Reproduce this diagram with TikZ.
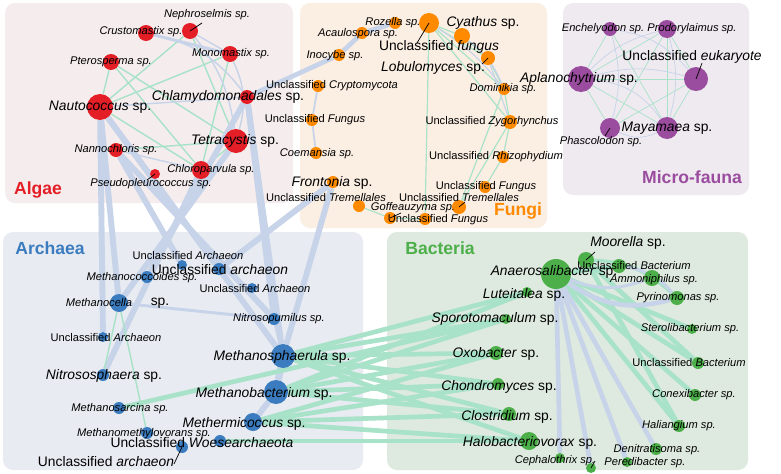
\documentclass[tikz,border=0pt]{standalone}
\usepackage{fontspec}
\setmainfont{Liberation Sans}
\usepackage{tikz}
\usetikzlibrary{calc}
\definecolor{algaefill}{HTML}{F5ECED}
\definecolor{fungifill}{HTML}{FBEEE3}
\definecolor{faunafill}{HTML}{EFEAF0}
\definecolor{archfill}{HTML}{E8EBF1}
\definecolor{bactfill}{HTML}{DEEADF}
\definecolor{algaecol}{HTML}{E41E26}
\definecolor{fungicol}{HTML}{FF8A00}
\definecolor{faunacol}{HTML}{9A4C9E}
\definecolor{archcol}{HTML}{3A7CBF}
\definecolor{bactcol}{HTML}{4DAF4A}
\definecolor{negcol}{HTML}{C6D3E8}
\definecolor{poscol}{HTML}{A8E2C8}
\newcommand{\taxon}[5]{\node[spnode,fill=#5,minimum size=#4*0.06cm] (#1) at (#2,#3) {};}
\pgfdeclarelayer{boxes}
\pgfdeclarelayer{edges}
\pgfsetlayers{boxes,edges,main}
\tikzset{
  spnode/.style={circle,inner sep=0pt,draw=none},
  lab/.style={inner sep=0pt,font=\fontsize{9.5}{10}\selectfont},
  big/.style={inner sep=0pt,font=\fontsize{11.8}{13}\selectfont},
  grouptitle/.style={inner sep=0pt,font=\fontsize{15}{16}\selectfont\bfseries},
  region/.style={rounded corners=0.3cm,draw=none},
  neg/.style={draw=negcol,line width=#1},
  pos/.style={draw=poscol,line width=#1},
  leader/.style={draw=black,line width=0.6pt}
}

\begin{document}
\begin{tikzpicture}[x=0.03cm,y=-0.03cm]
\useasboundingbox (0,0) rectangle (781,473);

% groups
\begin{pgfonlayer}{boxes}
  \fill[white] (0,0) rectangle (781,473);
  \fill[region,algaefill] (5,3) rectangle (293,203);
  \fill[region,fungifill] (300,3) rectangle (547,228);
  \fill[region,faunafill] (563,3) rectangle (749,195);
  \fill[region,archfill] (3,232) rectangle (363,470);
  \fill[region,bactfill] (387,232) rectangle (748,470);
\end{pgfonlayer}
\node[grouptitle,text=algaecol] (tAlgae) at (38,190) {Algae};
\node[grouptitle,text=fungicol] (tFungi) at (518,211) {Fungi};
\node[grouptitle,text=faunacol] (tFauna) at (692,177) {Micro-fauna};
\node[grouptitle,text=archcol] (tArch) at (50,248) {Archaea};
\node[grouptitle,text=bactcol] (tBact) at (440,248) {Bacteria};

% algae
\taxon{aNeph}{190}{31}{8}{algaecol}
\taxon{aCrus}{146}{33}{8}{algaecol}
\taxon{aMono}{230}{54}{8}{algaecol}
\taxon{aPter}{111}{62}{8}{algaecol}
\taxon{aNaut}{100}{107}{13}{algaecol}
\taxon{aChla}{247}{97}{7}{algaecol}
\taxon{aTetr}{236}{141}{12}{algaecol}
\taxon{aNann}{116}{150}{7}{algaecol}
\taxon{aChlo}{201}{170}{9}{algaecol}
\taxon{aPseu}{155}{174}{5}{algaecol}

% fungi
\taxon{fRoze}{395}{23}{6}{fungicol}
\taxon{fUFb}{429}{23}{10}{fungicol}
\taxon{fCyat}{462}{36}{8}{fungicol}
\taxon{fAcau}{362}{33}{6}{fungicol}
\taxon{fInoc}{339}{55}{6}{fungicol}
\taxon{fLobu}{488}{58}{7}{fungicol}
\taxon{fUCry}{318}{86}{6}{fungicol}
\taxon{fDomi}{504}{89}{6}{fungicol}
\taxon{fUFu1}{312}{120}{6}{fungicol}
\taxon{fZygo}{510}{122}{7}{fungicol}
\taxon{fCoem}{316}{153}{6}{fungicol}
\taxon{fRhiz}{503}{157}{6}{fungicol}
\taxon{fFron}{333}{182}{6}{fungicol}
\taxon{fUFu2}{485}{187}{6}{fungicol}
\taxon{fTreL}{359}{206}{6}{fungicol}
\taxon{fGoff}{390}{218}{6}{fungicol}
\taxon{fTreR}{459}{207}{7}{fungicol}
\taxon{fUFu3}{425}{219}{6}{fungicol}

% micro-fauna
\taxon{mEnch}{610}{29}{7}{faunacol}
\taxon{mProd}{667}{29}{9}{faunacol}
\taxon{mUEuk}{696}{79}{12}{faunacol}
\taxon{mApla}{581}{79}{13}{faunacol}
\taxon{mPhas}{610}{128}{10}{faunacol}
\taxon{mMaya}{667}{128}{11}{faunacol}

% archaea
\taxon{rUA1}{182}{265}{5}{archcol}
\taxon{rMcoc}{147}{277}{6}{archcol}
\taxon{rUAb}{219}{269}{6}{archcol}
\taxon{rUA2}{252}{288}{5}{archcol}
\taxon{rMcel}{119}{303}{9}{archcol}
\taxon{rNpum}{274}{319}{6}{archcol}
\taxon{rUA3}{103}{337}{5}{archcol}
\taxon{rMsph}{283}{356}{12}{archcol}
\taxon{rNsph}{103}{375}{6}{archcol}
\taxon{rMbac}{276}{392}{12}{archcol}
\taxon{rMsar}{119}{408}{6}{archcol}
\taxon{rMthc}{253}{422}{9}{archcol}
\taxon{rMmet}{147}{433}{6}{archcol}
\taxon{rWoes}{220}{441}{6}{archcol}
\taxon{rUAc}{182}{447}{6}{archcol}

% bacteria
\taxon{bAnae}{556}{274}{15}{bactcol}
\taxon{bMoor}{586}{260}{8}{bactcol}
\taxon{bUB1}{619}{266}{7}{bactcol}
\taxon{bAmmo}{652}{278}{8}{bactcol}
\taxon{bPyri}{677}{298}{7}{bactcol}
\taxon{bLute}{527}{292}{5}{bactcol}
\taxon{bSter}{692}{329}{5}{bactcol}
\taxon{bSpor}{506}{319}{5}{bactcol}
\taxon{bUB2}{698}{363}{6}{bactcol}
\taxon{bOxob}{496}{353}{7}{bactcol}
\taxon{bChon}{498}{384}{6}{bactcol}
\taxon{bConx}{695}{395}{6}{bactcol}
\taxon{bClos}{509}{414}{7}{bactcol}
\taxon{bHali}{679}{426}{6}{bactcol}
\taxon{bHalo}{529}{441}{9}{bactcol}
\taxon{bDeni}{656}{449}{6}{bactcol}
\taxon{bCeph}{560}{458}{5}{bactcol}
\taxon{bPere}{627}{462}{5}{bactcol}
\taxon{bUnk}{591}{468}{5}{bactcol}

\begin{pgfonlayer}{edges}
% algae
\foreach \a/\b in {aNeph/aNaut,aMono/aNaut,aPter/aNaut,aPter/aChlo,aPter/aTetr,
  aNeph/aTetr,aMono/aChlo,aNann/aTetr,aNaut/aChlo,aChlo/aTetr}
  \draw[pos=1.2pt] (\a) -- (\b);
\draw[neg=2.5pt] (aCrus) -- (aMono);
\draw[neg=1.2pt] (aNeph) -- (aMono);
\draw[neg=1.2pt] (aNaut) -- (aChla);
\draw[neg=1.2pt] (aNann) -- (aChlo);
\draw[neg=1.2pt] (aCrus) to[bend left=20] (aChla);
\draw[neg=1.2pt] (aNeph) to[bend left=15] (aTetr);
\draw[neg=1.2pt] (aMono) to[bend left=20] (aTetr);
% algae and fungi to archaea
\foreach \a/\b in {aNaut/rUA3,aNaut/rMcel,aNaut/rUAb,aNaut/rMsph,aNann/rUA1,aNann/rNpum,
  aChla/rMcoc,aTetr/rMcel,aChlo/rNsph,aChla/rMsph,aChla/rNpum,fFron/rMsph,fFron/rUAb}
  \draw[neg=5pt] (\a) -- (\b);
% fungi
\draw[neg=4pt] (fRoze) -- (fAcau) -- (fInoc) -- (aChla);
\draw[neg=1.5pt] (fUCry) -- (fUFu1) -- (fCoem);
\foreach \a/\b in {fUFb/fCyat,fUFb/fLobu,fUFb/fDomi,fUFb/fZygo,fUFb/fUFu3,fCyat/fLobu,
  fLobu/fDomi,fDomi/fZygo,fDomi/fTreR,fZygo/fTreR,fZygo/fRhiz,fRhiz/fUFu2,fTreL/fGoff,fGoff/fUFu3}
  \draw[pos=1pt] (\a) -- (\b);
\draw[neg=1pt] (fCyat) to[bend left=15] (fDomi);
\draw[neg=1pt] (fUFb) to[bend left=10] (fDomi);
\draw[neg=1pt] (fLobu) -- (fZygo);
% micro-fauna
\foreach \a/\b in {mEnch/mApla,mProd/mApla,mProd/mMaya,mProd/mUEuk,mApla/mUEuk,mApla/mPhas,
  mApla/mMaya,mPhas/mUEuk,mMaya/mUEuk,mProd/mPhas,mEnch/mMaya}
  \draw[pos=0.6pt] (\a) -- (\b);
\draw[neg=0.6pt] (mEnch) to[bend left=20] (mUEuk);
\draw[neg=0.6pt] (mProd) to[bend left=15] (mMaya);
\draw[neg=0.6pt] (mApla) to[bend left=15] (mUEuk);
\draw[neg=0.6pt] (mPhas) to[bend right=25] (mMaya);
\draw[neg=0.6pt] (mApla) to[bend left=25] (mMaya);
\draw[neg=0.6pt] (mEnch) to[bend left=15] (mPhas);
\draw[neg=0.6pt] (mProd) to[bend right=15] (mApla);
% archaea
\draw[pos=1.2pt] (rMcel) -- (rNsph);
\draw[pos=1.2pt] (rMcel) -- (rMmet);
\draw[neg=2.5pt] (rMcel) -- (rNpum);
\draw[neg=2.5pt] (rNpum) -- (rMsph);
\draw[neg=6pt] (rMsph) -- (rMbac);
\draw[neg=5pt] (rMbac) -- (rMthc);
% archaea to bacteria
\foreach \a/\b in {rMsph/bLute,rMsph/bSpor,rMsph/bOxob,rMsph/bChon,rMsph/bClos,rMsph/bHalo,
  rMbac/bLute,rMbac/bSpor,rMbac/bOxob,rMbac/bChon,rMbac/bClos,
  rMthc/bOxob,rMthc/bChon,rMthc/bClos,rMthc/bHalo,rWoes/bHalo,rMsar/bSpor}
  \draw[pos=4pt] (\a) -- (\b);
% bacteria
\foreach \a/\b in {bAnae/bSter,bAnae/bUB2,bAnae/bConx,bAnae/bHali,bAnae/bUB1,bMoor/bHali,bMoor/bUB2}
  \draw[pos=4pt] (\a) -- (\b);
\draw[pos=3pt] (bMoor) to[bend left=20] (bPyri);
\foreach \a/\b in {bAnae/bCeph,bAnae/bUnk,bAnae/bPere,bAnae/bDeni}
  \draw[neg=4pt] (\a) -- (\b);
\draw[neg=4pt] (bAnae) to[bend right=25] (bPyri);
\draw[neg=2.5pt] (bAnae) to[bend right=20] (bAmmo);
\draw[neg=2.5pt] (bUB1) to[bend left=20] (bPyri);
\end{pgfonlayer}

% labels algae
\node[lab] (lNeph) at (207,15) {\textit{Nephroselmis sp.}};
\node[lab] (lCrus) at (141,32) {\textit{Crustomastix sp.}};
\node[lab] (lMono) at (231,54) {\textit{Monomastix sp.}};
\node[lab] (lPter) at (111,62) {\textit{Pterosperma sp.}};
\node[big] (lNaut) at (100,107) {\textit{Nautococcus} sp.};
\node[big] (lChla) at (228,97) {\textit{Chlamydomonadales} sp.};
\node[big] (lTetr) at (235,141) {\textit{Tetracystis} sp.};
\node[lab] (lNann) at (116,150) {\textit{Nannochloris sp.}};
\node[lab] (lChlo) at (211,170) {\textit{Chloroparvula sp.}};
\node[lab] (lPseu) at (151,184) {\textit{Pseudopleurococcus sp.}};
\coordinate (cNeph) at (202,23);
\coordinate (cPseu) at (147,180);
\draw[leader] (cNeph) -- (aNeph.center);
\draw[leader] (cPseu) -- (aPseu.center);

% labels fungi
\node[lab] (lRoze) at (393,23) {\textit{Rozella sp.}};
\node[lab] (lAcau) at (358,34) {\textit{Acaulospora sp.}};
\node[lab] (lInoc) at (335,56) {\textit{Inocybe sp.}};
\node[big] (lUFb) at (439,47) {Unclassified \textit{fungus}};
\node[big] (lCyat) at (483,23) {\textit{Cyathus} sp.};
\node[big] (lLobu) at (433,68) {\textit{Lobulomyces} sp.};
\node[lab] (lUCry) at (332,86) {Unclassified \textit{Cryptomycota}};
\node[lab] (lDomi) at (503,89) {\textit{Dominikia sp.}};
\node[lab] (lUFu1) at (315,120) {Unclassified \textit{Fungus}};
\node[lab] (lZygo) at (492,122) {Unclassified \textit{Zygorhynchus}};
\node[lab] (lCoem) at (317,154) {\textit{Coemansia sp.}};
\node[lab] (lRhiz) at (496,157) {Unclassified \textit{Rhizophydium}};
\node[big] (lFron) at (332,183) {\textit{Frontonia} sp.};
\node[lab] (lUFu2) at (486,187) {Unclassified \textit{Fungus}};
\node[lab] (lTreL) at (326,198) {Unclassified \textit{Tremellales}};
\node[lab] (lTreR) at (459,198) {Unclassified \textit{Tremellales}};
\node[lab] (lGoff) at (413,208) {\textit{Goffeauzyma sp.}};
\node[lab] (lUFu3) at (438,220) {Unclassified \textit{Fungus}};
\coordinate (cUFb) at (417,43);
\coordinate (cLobu) at (482,64);
\coordinate (cGoff) at (401,213);
\coordinate (cTreR) at (465,202);
\draw[leader] (cUFb) -- (fUFb.center);
\draw[leader] (cLobu) -- (fLobu.center);
\draw[leader] (cGoff) -- (fGoff.center);
\draw[leader] (cTreR) -- (fTreR.center);

% labels micro-fauna
\node[lab] (lEnch) at (603,29) {\textit{Enchelyodon sp.}};
\node[lab] (lProd) at (692,29) {\textit{Prodorylaimus sp.}};
\node[big] (lUEuk) at (692,57) {Unclassified \textit{eukaryote}};
\node[big] (lApla) at (579,79) {\textit{Aplanochytrium} sp.};
\node[lab] (lPhas) at (601,142) {\textit{Phascolodon sp.}};
\node[big] (lMaya) at (667,128) {\textit{Mayamaea} sp.};
\coordinate (cUEuk) at (702,63);
\coordinate (cPhas) at (605,136);
\draw[leader] (cUEuk) -- (mUEuk.center);
\draw[leader] (cPhas) -- (mPhas.center);

% labels archaea
\node[lab] (lUA1) at (188,256) {Unclassified \textit{Archaeon}};
\node[lab] (lMcoc) at (142,278) {\textit{Methanococcoides sp.}};
\node[big] (lUAb) at (220,270) {Unclassified \textit{archaeon}};
\node[lab] (lUA2) at (255,289) {Unclassified \textit{Archaeon}};
\node[lab] (lMcel) at (99,303) {\textit{Methanocella}};
\node[big] (lMcelsp) at (160,303) {sp.};
\node[lab] (lNpum) at (279,319) {\textit{Nitrosopumilus sp.}};
\node[lab] (lUA3) at (106,338) {Unclassified \textit{Archaeon}};
\node[big] (lMsph) at (282,357) {\textit{Methanosphaerula} sp.};
\node[big] (lNsph) at (104,376) {\textit{Nitrososphaera} sp.};
\node[big] (lMbac) at (264,394) {\textit{Methanobacterium} sp.};
\node[lab] (lMsar) at (120,409) {\textit{Methanosarcina sp.}};
\node[big] (lMthc) at (244,424) {\textit{Methermicoccus} sp.};
\node[lab] (lMmet) at (144,434) {\textit{Methanomethylovorans sp.}};
\node[big] (lWoes) at (202,443) {Unclassified \textit{Woesearchaeota}};
\node[big] (lUAc) at (106,462) {Unclassified \textit{archaeon}};
\coordinate (cUAc) at (174,464);
\draw[leader] (cUAc) -- (rUAc.center);

% labels bacteria
\node[big] (lAnae) at (554,272) {\textit{Anaerosalibacter} sp.};
\node[big] (lMoor) at (628,243) {\textit{Moorella} sp.};
\node[lab] (lUB1) at (634,266) {Unclassified \textit{Bacterium}};
\node[lab] (lAmmo) at (654,280) {\textit{Ammoniphilus sp.}};
\node[lab] (lPyri) at (678,298) {\textit{Pyrinomonas sp.}};
\node[big] (lLute) at (524,295) {\textit{Luteitalea} sp.};
\node[lab] (lSter) at (690,329) {\textit{Sterolibacterium sp.}};
\node[big] (lSpor) at (495,319) {\textit{Sporotomaculum} sp.};
\node[lab] (lUB2) at (689,363) {Unclassified \textit{Bacterium}};
\node[big] (lOxob) at (496,354) {\textit{Oxobacter} sp.};
\node[big] (lChon) at (499,387) {\textit{Chondromyces} sp.};
\node[lab] (lConx) at (694,395) {\textit{Conexibacter sp.}};
\node[big] (lClos) at (507,417) {\textit{Clostridium} sp.};
\node[lab] (lHali) at (679,426) {\textit{Haliangium sp.}};
\node[big] (lHalo) at (530,443) {\textit{Halobacteriovorax} sp.};
\node[lab] (lDeni) at (657,450) {\textit{Denitratisoma sp.}};
\node[lab] (lCeph) at (555,461) {\textit{Cephalothrix sp.}};
\node[lab] (lPere) at (645,463) {\textit{Peredibacter sp.}};
\coordinate (cMoor) at (595,252);
\coordinate (cUnk) at (595,461);
\draw[leader] (cMoor) -- (bMoor.center);
\draw[leader] (cUnk) -- (bUnk.center);
\end{tikzpicture}
\end{document}
